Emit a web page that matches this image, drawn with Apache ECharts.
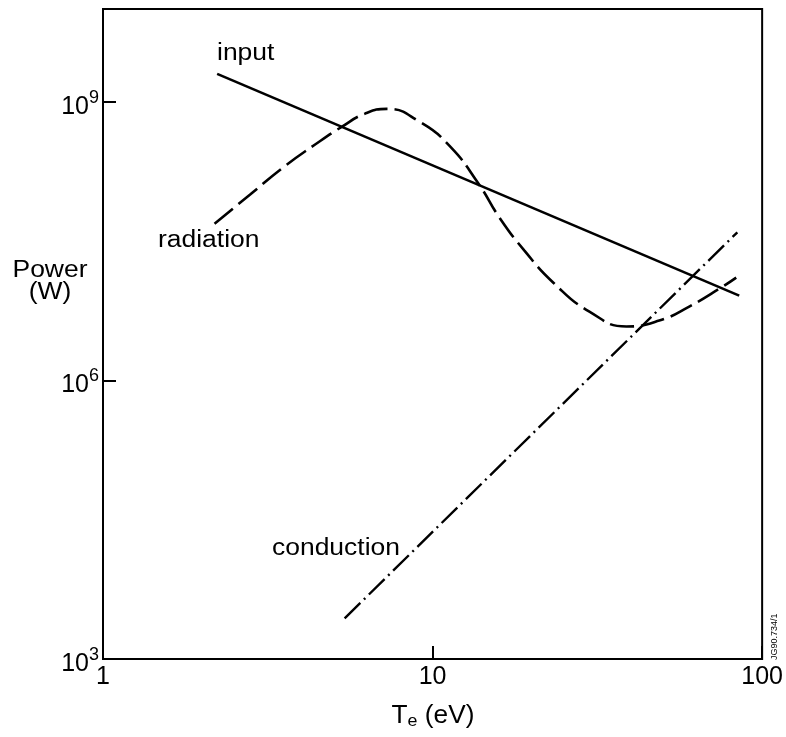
<!DOCTYPE html>
<html>
<head>
<meta charset="utf-8">
<script src="https://cdn.jsdelivr.net/npm/echarts@6/dist/echarts.min.js"></script>
<style>
html,body{margin:0;padding:0;background:#fff;}
#chart{width:786px;height:737px;}
</style>
</head>
<body>
<div id="chart"></div>
<script>
// Data (Te in eV, Power in W)
const inputTe = [2.22, 85.2];
const inputPower = [2.0e9, 8.2e6];

const radiationTe = [2.18, 2.79, 3.51, 4.39, 5.30, 6.22, 7.26, 9.13, 11.26, 13.79, 15.96, 19.0, 23.43, 29.91, 38.72, 48.75, 60.08, 75.10, 83.43];
const radiationPower = [4.88e7, 1.0e8, 1.95e8, 3.45e8, 5.38e8, 7.43e8, 8.41e8, 6.1e8, 3.35e8, 1.31e8, 5.66e7, 2.50e7, 1.10e7, 5.52e6, 3.81e6, 4.42e6, 6.25e6, 1.0e7, 1.28e7];

const conductionTe = [5.41, 84.1];
const conductionPower = [2740, 3.94e7];

const xTickLabels = [1, 10, 100];
const yTickLabels = [1e3, 1e6, 1e9];

const FONT = 'Liberation Sans';
const SX = 1.15;

function pairs(xs, ys) { return xs.map((x, i) => [x, ys[i]]); }

const chart = echarts.init(document.getElementById('chart'), null, {renderer: 'canvas'});

function label(text, x, y, size, align) {
  return {
    type: 'text', x: x, y: y, scaleX: SX,
    style: {text: text, font: size + 'px "' + FONT + '"', fill: '#000',
            align: align || 'left', verticalAlign: 'top', lineHeight: size}
  };
}

const option = {
  backgroundColor: '#fff',
  animation: false,
  grid: {
    left: 103, right: 23, top: 9, bottom: 78,
    show: true, borderColor: '#000', borderWidth: 2, backgroundColor: 'transparent'
  },
  xAxis: {
    type: 'log', logBase: 10, min: 1, max: 100, interval: 1,
    axisLine: {show: true, lineStyle: {color: '#000', width: 2}},
    axisTick: {show: true, inside: true, length: 13, lineStyle: {color: '#000', width: 2}},
    splitLine: {show: false},
    minorTick: {show: false},
    axisLabel: {
      show: true, color: '#000', fontFamily: FONT, fontSize: 25, margin: 6,
      formatter: v => (xTickLabels.some(t => Math.abs(t - v) / t < 1e-6) ? String(Math.round(v)) : '')
    }
  },
  yAxis: {
    type: 'log', logBase: 10, min: 1e3, max: 1e10, interval: 3,
    axisLine: {show: true, lineStyle: {color: '#000', width: 2}},
    axisTick: {show: true, inside: true, length: 13, lineStyle: {color: '#000', width: 2}},
    splitLine: {show: false},
    axisLabel: {
      show: true, color: '#000', fontFamily: FONT, margin: 4, showMaxLabel: false,
      formatter: v => {
        const hit = yTickLabels.find(t => Math.abs(t - v) / t < 1e-6);
        if (!hit) return '';
        const e = Math.round(Math.log10(hit));
        return '{b|10}{s|' + e + '}';
      },
      rich: {
        b: {fontFamily: FONT, fontSize: 25, color: '#000', padding: [10, 0, 0, 0]},
        s: {fontFamily: FONT, fontSize: 18, color: '#000', padding: [0, 0, 8, 0]}
      }
    }
  },
  series: [
    {
      name: 'input', type: 'line', showSymbol: false, silent: true,
      data: pairs(inputTe, inputPower),
      lineStyle: {color: '#000', width: 2.6, type: 'solid'}
    },
    {
      name: 'radiation', type: 'line', showSymbol: false, silent: true, smooth: 0.5,
      data: pairs(radiationTe, radiationPower),
      lineStyle: {color: '#000', width: 2.6, type: [24, 7]}
    },
    {
      name: 'conduction', type: 'line', showSymbol: false, silent: true,
      data: pairs(conductionTe, conductionPower),
      lineStyle: {color: '#000', width: 2.4, type: [22, 5, 2, 5]}
    }
  ],
  graphic: [
    label('input', 217, 42, 23),
    label('radiation', 158, 229, 23),
    label('conduction', 272, 537, 23),
    label('Power', 50, 259, 23, 'center'),
    label('(W)', 50, 281, 23, 'center'),
    {type: 'text', x: 433, y: 703, scaleX: 1.05, style: {
      text: '{t|T}{e|e}{t| (eV)}', align: 'center', verticalAlign: 'top',
      rich: {
        t: {fontFamily: FONT, fontSize: 25, color: '#000'},
        e: {fontFamily: FONT, fontSize: 17, color: '#000', padding: [10, 0, 0, 0]}
      }
    }},
    {type: 'text', x: 770, y: 660, rotation: Math.PI / 2, style: {text: 'JG90.734/1', font: '9px "' + FONT + '"', fill: '#000'}}
  ]
};
chart.setOption(option);
</script>
</body>
</html>
